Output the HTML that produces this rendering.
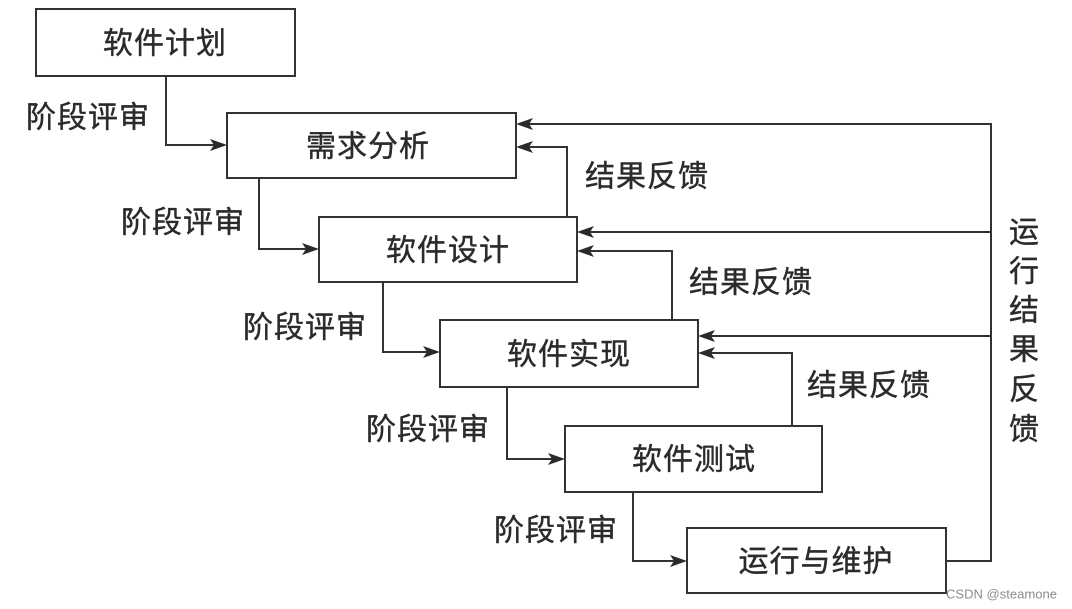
<!DOCTYPE html>
<html>
<head>
<meta charset="utf-8">
<style>
  html,body{margin:0;padding:0;background:#fff;}
  body{width:1072px;height:609px;overflow:hidden;}
  svg{display:block;}
  .t{font-family:"Liberation Sans","Noto Sans CJK SC",sans-serif;font-size:30px;fill:#2b2b2b;stroke:#2b2b2b;stroke-width:0.4;}
  .wm{font-family:"Liberation Sans",sans-serif;font-size:13px;fill:#8c8c8c;}
</style>
</head>
<body>
<svg width="1072" height="609" viewBox="0 0 1072 609" xmlns="http://www.w3.org/2000/svg">
  <rect x="0" y="0" width="1072" height="609" fill="#fff"/>
  <g fill="none" stroke="#333" stroke-width="2">
    <!-- boxes -->
    <rect x="36" y="9" width="259" height="67"/>
    <rect x="227" y="113" width="289" height="65"/>
    <rect x="319" y="217" width="258" height="65"/>
    <rect x="440" y="320" width="258" height="67"/>
    <rect x="565" y="426" width="257" height="66"/>
    <rect x="687" y="528" width="259" height="65"/>
    <!-- forward connectors -->
    <path d="M166,76 V145 H220"/>
    <path d="M259,178 V249 H312"/>
    <path d="M383,282 V352 H433"/>
    <path d="M507,387 V459 H558"/>
    <path d="M633,492 V561 H680"/>
    <!-- inner feedback -->
    <path d="M567,217 V147 H523"/>
    <path d="M672,320 V251 H584"/>
    <path d="M792,426 V353 H705"/>
    <!-- outer feedback -->
    <path d="M946,561 H991 V124 H523"/>
    <path d="M991,232 H584"/>
    <path d="M991,336 H705"/>
  </g>
  <g fill="#2b2b2b">
    <!-- right-pointing arrowheads -->
    <polygon points="227,145 210,139 214,145 210,151"/>
    <polygon points="319,249 302,243 306,249 302,255"/>
    <polygon points="440,352 423,346 427,352 423,358"/>
    <polygon points="565,459 548,453 552,459 548,465"/>
    <polygon points="687,561 670,555 674,561 670,567"/>
    <!-- left-pointing arrowheads -->
    <polygon points="516,124 533,118 529,124 533,130"/>
    <polygon points="516,147 533,141 529,147 533,153"/>
    <polygon points="577,232 594,226 590,232 594,238"/>
    <polygon points="577,251 594,245 590,251 594,257"/>
    <polygon points="698,336 715,330 711,336 715,342"/>
    <polygon points="698,353 715,347 711,353 715,359"/>
  </g>
  <!-- box labels -->
  <text class="t" x="165" y="44" text-anchor="middle" dominant-baseline="central" letter-spacing="1">软件计划</text>
  <text class="t" x="368" y="147" text-anchor="middle" dominant-baseline="central" letter-spacing="1">需求分析</text>
  <text class="t" x="448" y="251" text-anchor="middle" dominant-baseline="central" letter-spacing="1">软件设计</text>
  <text class="t" x="569" y="355" text-anchor="middle" dominant-baseline="central" letter-spacing="1">软件实现</text>
  <text class="t" x="694" y="460" text-anchor="middle" dominant-baseline="central" letter-spacing="1">软件测试</text>
  <text class="t" x="816" y="562" text-anchor="middle" dominant-baseline="central" letter-spacing="1">运行与维护</text>
  <!-- stage review labels -->
  <text class="t" x="88" y="118" text-anchor="middle" dominant-baseline="central" letter-spacing="1">阶段评审</text>
  <text class="t" x="183" y="223" text-anchor="middle" dominant-baseline="central" letter-spacing="1">阶段评审</text>
  <text class="t" x="305" y="328" text-anchor="middle" dominant-baseline="central" letter-spacing="1">阶段评审</text>
  <text class="t" x="428" y="430" text-anchor="middle" dominant-baseline="central" letter-spacing="1">阶段评审</text>
  <text class="t" x="556" y="531" text-anchor="middle" dominant-baseline="central" letter-spacing="1">阶段评审</text>
  <!-- feedback labels -->
  <text class="t" x="647" y="177" text-anchor="middle" dominant-baseline="central" letter-spacing="1">结果反馈</text>
  <text class="t" x="751" y="283" text-anchor="middle" dominant-baseline="central" letter-spacing="1">结果反馈</text>
  <text class="t" x="869" y="386" text-anchor="middle" dominant-baseline="central" letter-spacing="1">结果反馈</text>
  <!-- vertical label -->
  <text class="t" x="1024" y="233" text-anchor="middle" dominant-baseline="central">运</text>
  <text class="t" x="1024" y="272" text-anchor="middle" dominant-baseline="central">行</text>
  <text class="t" x="1024" y="311" text-anchor="middle" dominant-baseline="central">结</text>
  <text class="t" x="1024" y="350" text-anchor="middle" dominant-baseline="central">果</text>
  <text class="t" x="1024" y="390" text-anchor="middle" dominant-baseline="central">反</text>
  <text class="t" x="1024" y="430" text-anchor="middle" dominant-baseline="central">馈</text>
  <!-- watermark -->
  <text class="wm" x="946" y="594" dominant-baseline="central" textLength="111" lengthAdjust="spacingAndGlyphs">CSDN @steamone</text>
</svg>
</body>
</html>
